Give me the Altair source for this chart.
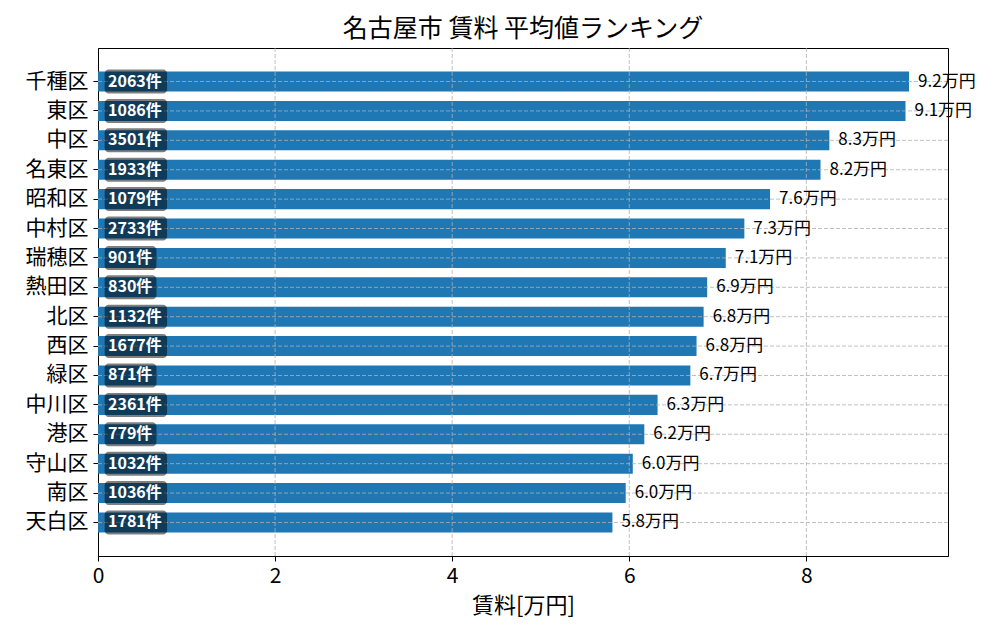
import altair as alt
import pandas as pd

wards = ["千種区", "東区", "中区", "名東区", "昭和区", "中村区", "瑞穂区", "熱田区",
         "北区", "西区", "緑区", "中川区", "港区", "守山区", "南区", "天白区"]
rent = [9.16, 9.12, 8.26, 8.16, 7.59, 7.30, 7.09, 6.88,
        6.84, 6.76, 6.69, 6.32, 6.17, 6.04, 5.96, 5.81]
counts = [2063, 1086, 3501, 1933, 1079, 2733, 901, 830,
          1132, 1677, 871, 2361, 779, 1032, 1036, 1781]
x_ticks = [0, 2, 4, 6, 8]

FONT = "Noto Sans CJK JP"

df = pd.DataFrame({"ward": wards, "rent": rent, "count": counts})
ticks_df = pd.DataFrame({"t": x_ticks})

xscale = alt.Scale(domain=[0, 9.6], nice=False, zero=True)
yscale = alt.Scale(paddingInner=0.318, paddingOuter=0.8)

base = alt.Chart(df).transform_calculate(
    vlabel="format(datum.rent, '.1f') + '万円'",
    clabel="datum.count + '件'",
).transform_calculate(
    bx="0.075",
    bx2="0.18 + 0.12 * length(datum.clabel)",
)

y_enc = alt.Y("ward:N", sort=wards, scale=yscale,
              axis=alt.Axis(title=None, grid=False, labelFontSize=21, labelFont=FONT,
                            labelColor="black", tickColor="black", tickSize=5,
                            labelPadding=5, domainColor="black"))

bars = base.mark_bar(color="#1f77b4").encode(
    x=alt.X("rent:Q", scale=xscale,
            axis=alt.Axis(title="賃料[万円]", values=x_ticks, format="d", grid=False,
                          labelFlush=False,
                          labelFontSize=21, labelFont=FONT, labelColor="black",
                          titleFontSize=22, titleFont=FONT, titleFontWeight="normal",
                          titleColor="black", tickColor="black", tickSize=5,
                          labelPadding=4, titlePadding=9, domainColor="black")),
    y=y_enc,
)

xgrid = alt.Chart(ticks_df).transform_filter("datum.t > 0").mark_rule(
    stroke="#b0b0b0", strokeWidth=0.8, strokeDash=[4, 2]
).encode(x=alt.X("t:Q", scale=xscale))

ygrid = base.mark_rule(
    stroke="#b0b0b0", strokeWidth=0.8, strokeDash=[4, 2]
).encode(y=alt.Y("ward:N", sort=wards, scale=yscale))

boxes = base.mark_bar(color="black", opacity=0.5, cornerRadius=4, height=24).encode(
    x="bx:Q", x2="bx2:Q", y=alt.Y("ward:N", sort=wards, scale=yscale)
)

ctext = base.mark_text(align="left", baseline="middle", color="white",
                       fontWeight="bold", fontSize=16, font=FONT, dx=10).encode(
    x=alt.value(0), y=alt.Y("ward:N", sort=wards, scale=yscale), text="clabel:N"
)

vtext = base.mark_text(align="left", baseline="middle", color="black",
                       fontSize=17, font=FONT, dx=9).encode(
    x=alt.X("rent:Q", scale=xscale), y=alt.Y("ward:N", sort=wards, scale=yscale),
    text="vlabel:N"
)

chart = alt.layer(bars, xgrid, ygrid, boxes, ctext, vtext).properties(
    width=850, height=508,
    title=alt.TitleParams("名古屋市 賃料 平均値ランキング", fontSize=25, font=FONT,
                          fontWeight="normal", color="black", offset=6),
    padding={"left": 90, "top": 40, "right": 44, "bottom": 76},
    autosize=alt.AutoSizeParams(type="none"),
    background="white",
).configure_view(stroke="black", strokeWidth=1)

chart.save("out.html", embed_options={"renderer": "svg", "actions": False})
